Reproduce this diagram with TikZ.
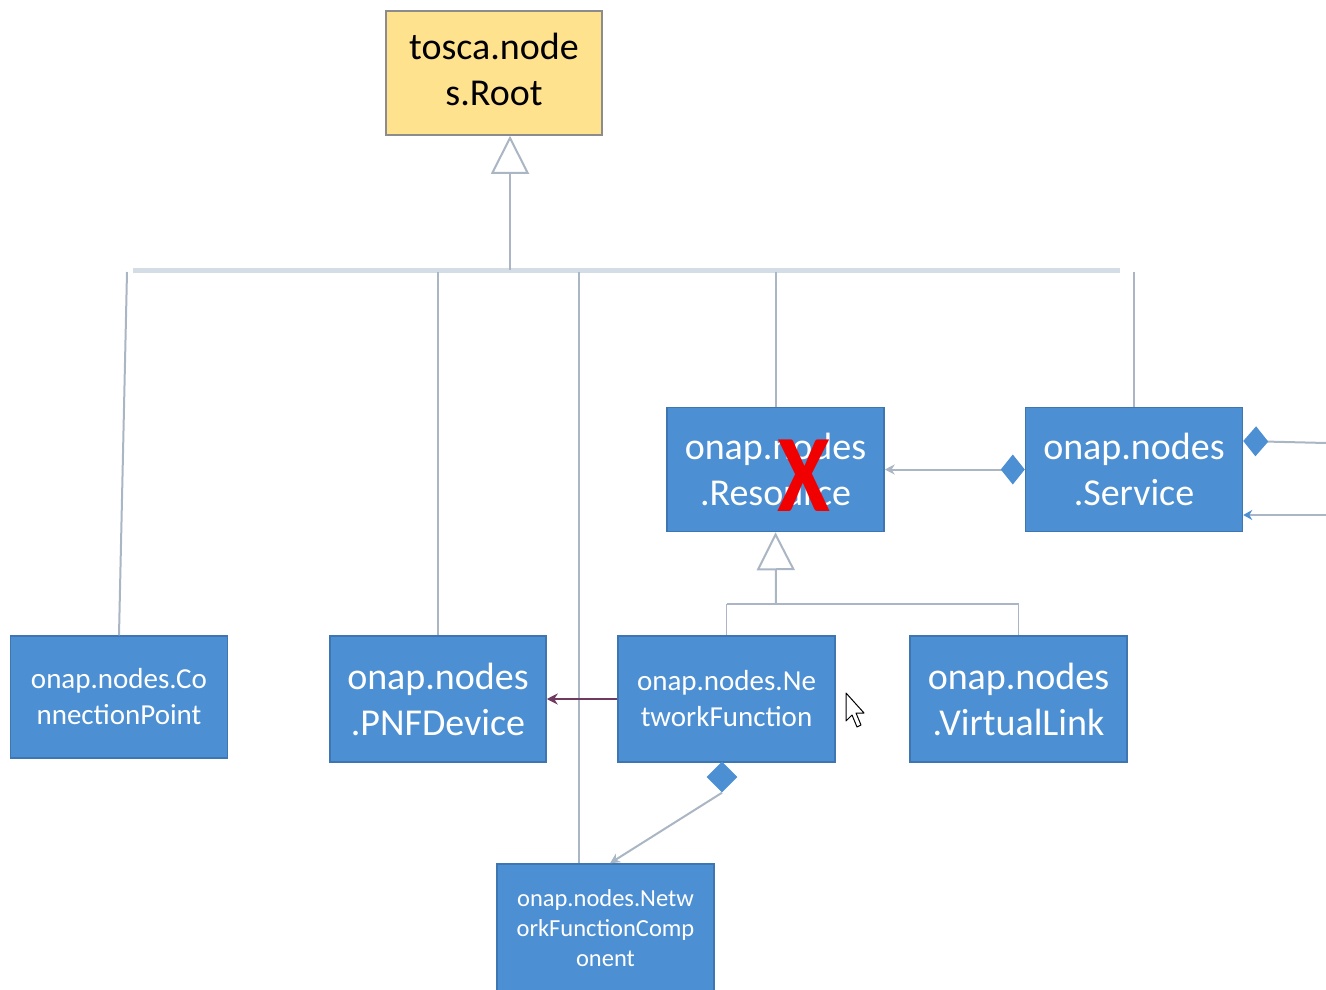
\documentclass[tikz,border=0pt]{standalone}
\usepackage{fontspec}
\setmainfont{Carlito}
\usetikzlibrary{arrows.meta,shapes.geometric}
\definecolor{boxblue}{RGB}{76,143,211}
\definecolor{boxedge}{RGB}{62,118,178}
\definecolor{rootfill}{RGB}{255,226,142}
\definecolor{rootedge}{RGB}{140,140,140}
\definecolor{conncol}{RGB}{170,182,196}
\definecolor{buscol}{RGB}{212,220,229}
\definecolor{nfcol}{RGB}{112,58,96}
\definecolor{xred}{RGB}{240,0,0}
\begin{document}
\begin{tikzpicture}[x=1pt,y=-1pt,
  bluebox/.style={draw=boxedge,fill=boxblue,line width=1.5pt,text=white,align=center,inner sep=0pt,minimum width=217pt,minimum height=124pt},
  rootbox/.style={draw=rootedge,fill=rootfill,line width=1.5pt,text=black,align=center,inner sep=0pt,minimum width=216pt,minimum height=124pt},
  bigtxt/.style={font=\fontsize{38}{46}\selectfont},
  midtxt/.style={font=\fontsize{29}{36}\selectfont},
  smalltxt/.style={font=\fontsize{24.5}{30}\selectfont},
  link/.style={draw=conncol,line width=2pt},
  bus/.style={draw=buscol,line width=5pt},
  gen/.style={link,-{Triangle[open,length=38pt,width=38pt,fill=white]}},
  comp/.style={link,{Diamond[length=24pt,width=30pt,color=boxblue,fill=boxblue]}-{Stealth[length=10pt,width=10pt]}},
  dmd/.style={diamond,fill=boxblue,draw=none,inner sep=0pt,minimum width=31pt,minimum height=31pt},
]
\useasboundingbox (0,0) rectangle (1326,990);

% nodes
\node[rootbox,bigtxt] (root) at (494,73) {\raisebox{3pt}{\begin{tabular}{@{}c@{}}tosca.node\\s.Root\end{tabular}}};
\node[bluebox,bigtxt] (res) at (775.5,469.5) {onap.nodes\\.Resource};
\node[bluebox,bigtxt] (svc) at (1134,469.5) {onap.nodes\\.Service};
\node[bluebox,midtxt,minimum height=122pt] (cp) at (119,697) {onap.nodes.Co\\nnectionPoint};
\node[bluebox,bigtxt,minimum width=216pt,minimum height=126pt] (pnf) at (438,699) {onap.nodes\\.PNFDevice};
\node[bluebox,midtxt,minimum height=126pt] (nf) at (726.5,699) {onap.nodes.Ne\\tworkFunction};
\node[bluebox,bigtxt,minimum height=126pt] (vl) at (1018.5,699) {onap.nodes\\.VirtualLink};
\node[bluebox,smalltxt,minimum height=128pt] (nfc) at (605.5,928) {onap.nodes.Netw\\orkFunctionComp\\onent};
\node[dmd] (nfd) at (722,777) {};

% bus coordinates
\coordinate (busL) at (133,270);
\coordinate (busR) at (1120,270);
\coordinate (bRoot) at (510,270);
\coordinate (bCp) at (127,272);
\coordinate (bPnf) at (438,272);
\coordinate (bNfc) at (579,272);
\coordinate (bRes) at (776,272);
\coordinate (bSvc) at (1134,272);

\draw[bus] (busL) -- (busR);
\draw[gen] (bRoot) -- (bRoot |- root.south);
\draw[link] (bCp) -- (cp.north);
\draw[link] (bPnf) -- (pnf.north);
\draw[link] (bNfc) -- (bNfc |- nfc.north);
\draw[link] (bRes) -- (bRes |- res.north);
\draw[link] (bSvc) -- (svc.north);

% resource generalization
\coordinate (jRes) at (776,604);
\coordinate (jNf) at (726.5,604);
\coordinate (jVl) at (1018.5,604);
\draw[link,line width=1.5pt] (jNf) -- (jVl);
\draw[link,line width=1.5pt] (jNf) -- (nf.north);
\draw[link,line width=1.5pt] (jVl) -- (vl.north);
\draw[gen] (jRes) -- (res.south);

% service composition
\draw[comp] (svc.west) -- (res.east);
\coordinate (out1) at (1326,443);
\coordinate (out2) at (1326,515);
\draw[link,{Diamond[length=25pt,width=30pt,color=boxblue,fill=boxblue]}-] ([yshift=28.5pt]svc.east) -- (out1);
\draw[link,{Stealth[length=9pt,width=10pt,color=boxblue]}-] ([yshift=-45.5pt]svc.east) -- (out2);

% NF -> PNF
\draw[draw=nfcol,line width=2.5pt,-{Stealth[length=11pt,width=11pt]}] (nf.west) -- (pnf.east);

% NF -> NFC
\draw[link,-{Stealth[length=10pt,width=10pt]}] (nfd.south) -- ([xshift=4.5pt]nfc.north);

% red X
\node[text=xred,font=\fontsize{96}{96}\selectfont\bfseries,inner sep=0pt,yscale=1.15] (xmark) at (804,476) {X};

% mouse cursor
\draw[black,fill=white,line width=1pt,line join=round] (846,693) -- (846,721) -- (852,715) -- (857,727) -- (861,725) -- (856,713) -- (864,713) -- cycle;
\end{tikzpicture}
\end{document}
